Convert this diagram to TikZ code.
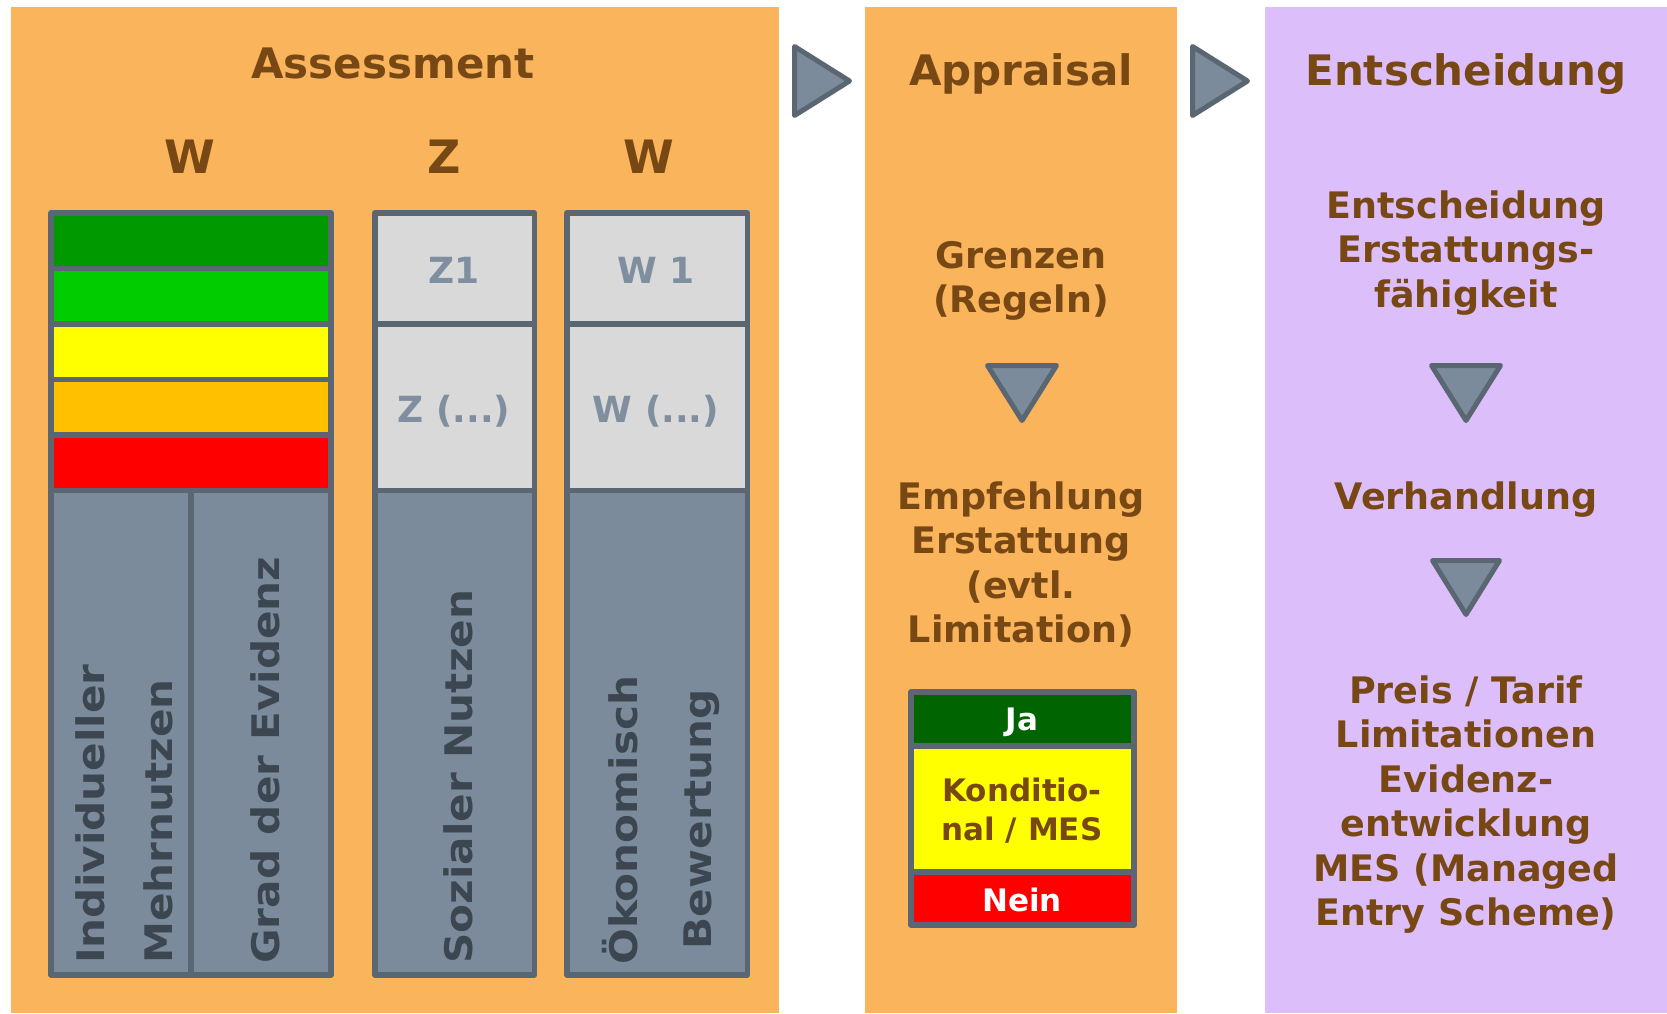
\documentclass[tikz,border=0pt]{standalone}
\usepackage{fontspec}
\setmainfont{DejaVu Sans}
\definecolor{panelO}{RGB}{249,180,92}
\definecolor{panelP}{RGB}{220,190,250}
\definecolor{brownT}{RGB}{120,72,20}
\definecolor{slateF}{RGB}{123,139,155}
\definecolor{slateD}{RGB}{90,103,115}
\definecolor{cellG}{RGB}{217,217,217}
\definecolor{cellT}{RGB}{127,143,160}
\definecolor{rotT}{RGB}{60,70,80}
\definecolor{gDark}{RGB}{0,153,0}
\definecolor{gLight}{RGB}{0,204,0}
\definecolor{yel}{RGB}{255,255,0}
\definecolor{org}{RGB}{255,192,0}
\definecolor{redc}{RGB}{255,0,0}
\definecolor{jaG}{RGB}{0,100,0}
\newcommand\mlc[1]{\begin{tabular}[t]{@{}c@{}}#1\end{tabular}}
\newcommand\mll[1]{\begin{tabular}[t]{@{}l@{}}#1\end{tabular}}
\newcommand\wide[1]{\scalebox{1.11}[1.0]{#1}}
\begin{document}
\begin{tikzpicture}[x=1pt,y=-1pt,
  head/.style={anchor=base,inner sep=0pt,text=brownT,font=\fontsize{42}{50}\selectfont\bfseries},
  letter/.style={anchor=base,inner sep=0pt,text=brownT,font=\fontsize{46}{54}\selectfont\bfseries},
  body/.style={anchor=base,inner sep=0pt,text=brownT,font=\fontsize{36.5}{44.5}\selectfont\bfseries},
  celltext/.style={anchor=base,inner sep=0pt,text=cellT,font=\fontsize{36}{44}\selectfont\bfseries},
  rot/.style={anchor=base west,rotate=90,inner sep=0pt,text=rotT,font=\fontsize{38}{68}\selectfont\bfseries},
  res/.style={anchor=base,inner sep=0pt,font=\fontsize{31}{39}\selectfont\bfseries},
  frame/.style={draw=slateD,line width=5.5pt,line join=round},
  tri/.style={fill=slateF,draw=slateD,line width=5pt,line join=round}
]
\useasboundingbox (0,0) rectangle (1667,1013);
\fill[white] (0,0) rectangle (1667,1013);
% panels
\fill[panelO] (11,7) rectangle (779,1013);
\fill[panelO] (865,7) rectangle (1177,1013);
\fill[panelP] (1265,7) rectangle (1667,1013);
% flow arrows
\draw[tri] (794.5,46.5) -- (849.5,81) -- (794.5,115.5) -- cycle;
\draw[tri] (1192.5,46.5) -- (1247.5,81) -- (1192.5,115.5) -- cycle;
\draw[tri] (987.5,365.5) -- (1056.5,365.5) -- (1022,420.5) -- cycle;
\draw[tri] (1431.5,365.5) -- (1500.5,365.5) -- (1466,420.5) -- cycle;
\draw[tri] (1432.5,560.5) -- (1499.5,560.5) -- (1466,614.5) -- cycle;
% headings
\node[head] (assess) at (393,78) {Assessment};
\node[head] (apprais) at (1021,85) {Appraisal};
\node[head] (entsch) at (1466,85) {Entscheidung};
\node[letter] (lw1) at (190,173) {W};
\node[letter] (lz) at (444,173) {Z};
\node[letter] (lw2) at (649,173) {W};
% W box
\fill[gDark] (51,213) rectangle (331,268.5);
\fill[gLight] (51,268.5) rectangle (331,324);
\fill[yel] (51,324) rectangle (331,379.5);
\fill[org] (51,379.5) rectangle (331,435);
\fill[redc] (51,435) rectangle (331,490.5);
\fill[slateF] (51,490.5) rectangle (331,975);
\draw[frame] (51,213) rectangle (331,975);
\foreach \yy in {268.5,324,379.5,435,490.5} \draw[frame] (51,\yy) -- (331,\yy);
\draw[frame] (191,490.5) -- (191,975);
% Z box
\fill[cellG] (375,213) rectangle (534.5,490.5);
\fill[slateF] (375,490.5) rectangle (534.5,975);
\draw[frame] (375,213) rectangle (534.5,975);
\draw[frame] (375,324) -- (534.5,324);
\draw[frame] (375,490.5) -- (534.5,490.5);
% W2 box
\fill[cellG] (567,213) rectangle (747.5,490.5);
\fill[slateF] (567,490.5) rectangle (747.5,975);
\draw[frame] (567,213) rectangle (747.5,975);
\draw[frame] (567,324) -- (747.5,324);
\draw[frame] (567,490.5) -- (747.5,490.5);
% cell texts
\node[celltext] (z1) at (454,283.5) {Z1};
\node[celltext] (w1) at (656,283.5) {W 1};
\node[celltext] (zx) at (454,422) {Z (...)};
\node[celltext] (wx) at (656,422) {W (...)};
% rotated texts
\node[rot] (indiv) at (104,964) {\wide{\mll{Individueller\\Mehrnutzen}}};
\node[rot] (grad) at (279,964) {\wide{Grad der Evidenz}};
\node[rot] (sozial) at (472,964) {\wide{Sozialer Nutzen}};
\node[rot] (oekon) at (637,965) {\wide{\mll{Ökonomisch\\[6pt]\hspace*{14pt}Bewertung}}};
% appraisal texts
\node[body] (grenz) at (1021,268) {\mlc{Grenzen\\(Regeln)}};
\node[body] (empf) at (1021,509) {\mlc{Empfehlung\\Erstattung\\(evtl.\\Limitation)}};
% result box
\fill[jaG] (911,692) rectangle (1134,746);
\fill[yel] (911,746) rectangle (1134,872);
\fill[redc] (911,872) rectangle (1134,925);
\draw[frame] (911,692) rectangle (1134,925);
\draw[frame] (911,746) -- (1134,746);
\draw[frame] (911,872) -- (1134,872);
\node[res,text=white] (ja) at (1022,730) {Ja};
\node[res,text=brownT] (kond) at (1022,801) {\mlc{Konditio-\\nal / MES}};
\node[res,text=white] (nein) at (1022,911) {Nein};
% decision texts
\node[body] (entsub) at (1466,218) {\mlc{Entscheidung\\Erstattungs-\\fähigkeit}};
\node[body] (verh) at (1466,509) {Verhandlung};
\node[body] (preis) at (1466,703) {\mlc{Preis / Tarif\\Limitationen\\Evidenz-\\entwicklung\\MES (Managed\\Entry Scheme)}};
\end{tikzpicture}
\end{document}
